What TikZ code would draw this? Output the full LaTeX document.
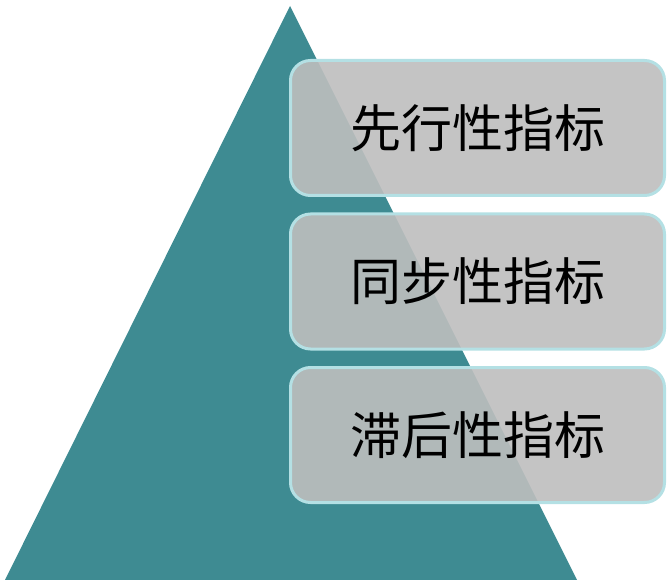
\documentclass[tikz,border=0pt]{standalone}
\usepackage{fontspec}
\newfontfamily\cjk{Noto Sans CJK SC}
\usetikzlibrary{positioning}
\definecolor{pyramidteal}{HTML}{3E8B92}
\definecolor{boxgray}{HTML}{BEBEBE}
\definecolor{boxedge}{HTML}{B4E0E4}
\begin{document}
\begin{tikzpicture}[x=1pt, y=-1pt,
      indicator/.style = {shape=rectangle, rounded corners=20pt, draw=boxedge, line width=3pt,
        fill=boxgray, fill opacity=0.9, text opacity=1, minimum width=374pt, minimum height=135pt,
        inner sep=0pt, font=\cjk\fontsize{51}{54}\selectfont},
      node distance=15.5pt]
    \useasboundingbox (0,0) rectangle (667,580);
    \fill[pyramidteal] (290,6) -- (577,580) -- (5,580) -- cycle;
    \node[indicator] (lead) at (477.5,128) {先行性指标};
    \node[indicator, below=of lead] (coincident) {同步性指标};
    \node[indicator, below=of coincident] (lag) {滞后性指标};
\end{tikzpicture}
\end{document}
